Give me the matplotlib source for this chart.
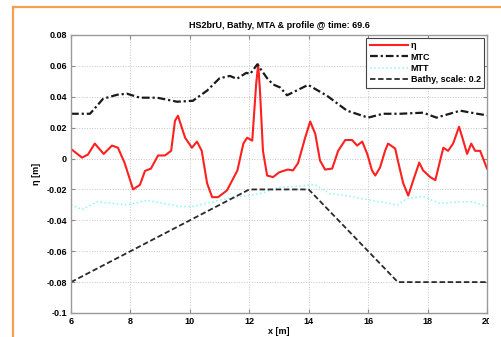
#!/usr/bin/env python3
"""Free-surface, mean trough/crest and bathymetry profile snapshot."""

import matplotlib
matplotlib.use("Agg")
import matplotlib.pyplot as plt
from matplotlib.lines import Line2D
from matplotlib.patches import Rectangle

# eta (free surface)
ETA_X = [6.03, 6.37, 6.57, 6.8, 7.1, 7.38, 7.58, 7.8, 8.09, 8.32, 8.49, 8.69,
         8.93, 9.16, 9.37, 9.5, 9.6, 9.84, 10.07, 10.24, 10.4, 10.58, 10.75,
         10.95, 11.25, 11.6, 11.8, 11.93, 12.1, 12.23, 12.3, 12.36, 12.46,
         12.6, 12.8, 13.0, 13.1, 13.3, 13.47, 13.64, 13.88, 14.05, 14.22,
         14.38, 14.55, 14.79, 14.99, 15.23, 15.46, 15.63, 15.8, 15.97, 16.13,
         16.24, 16.4, 16.57, 16.67, 16.91, 17.0, 17.18, 17.35, 17.52, 17.72,
         17.85, 18.09, 18.26, 18.53, 18.69, 18.86, 19.06, 19.2, 19.33, 19.47,
         19.6, 19.77, 20.0]
ETA_Y = [0.0058, 0.0006, 0.0026, 0.0097, 0.003, 0.0084, 0.007, -0.0026, -0.02,
         -0.017, -0.008, -0.0065, 0.002, 0.002, 0.005, 0.0245, 0.0277, 0.0135,
         0.007, 0.011, 0.005, -0.016, -0.025, -0.025, -0.0206, -0.0077, 0.0097,
         0.0135, 0.0116, 0.048, 0.061, 0.044, 0.005, -0.011, -0.012, -0.009,
         -0.0083, -0.0071, -0.0077, -0.003, 0.0135, 0.024, 0.016, -0.0013,
         -0.0071, -0.0065, 0.005, 0.012, 0.012, 0.0084, 0.011, 0.003, -0.0077,
         -0.011, -0.0058, 0.005, 0.0097, 0.0065, -0.0013, -0.016, -0.024,
         -0.014, -0.0026, -0.0077, -0.012, -0.014, 0.007, 0.005, 0.0097,
         0.0206, 0.0116, 0.003, 0.0097, 0.005, 0.005, -0.0065]

# mean crest (MTC)
MTC_X = [6.0, 6.64, 7.08, 7.55, 7.88, 8.32, 8.9, 9.57, 10.1, 10.58, 11.0,
         11.35, 11.58, 11.9, 12.03, 12.27, 12.6, 12.8, 13.04, 13.27, 13.98,
         14.62, 15.29, 16.0, 16.5, 17.08, 17.85, 18.3, 19.1, 19.67, 20.0]
MTC_Y = [0.029, 0.029, 0.0387, 0.0413, 0.042, 0.0394, 0.0394, 0.0368, 0.0374,
         0.044, 0.052, 0.0535, 0.0516, 0.0555, 0.0548, 0.061, 0.052, 0.048,
         0.046, 0.041, 0.0477, 0.0406, 0.031, 0.0265, 0.029, 0.029, 0.0297,
         0.0265, 0.031, 0.029, 0.028]

# mean trough (MTT)
MTT_X = [6.0, 6.37, 6.88, 7.4, 7.9, 8.56, 9.1, 9.67, 10.1, 10.78, 11.45, 12.0,
         12.5, 13.0, 13.6, 14.2, 14.7, 15.3, 15.8, 16.4, 16.98, 17.3, 17.85,
         18.4, 19.1, 19.5, 20.0]
MTT_Y = [-0.030, -0.033, -0.028, -0.029, -0.030, -0.027, -0.029, -0.031,
         -0.031, -0.028, -0.025, -0.024, -0.022, -0.0187, -0.018, -0.0168,
         -0.0226, -0.024, -0.026, -0.028, -0.030, -0.026, -0.0245, -0.029,
         -0.028, -0.028, -0.031]

# bathymetry, already scaled by 0.2
BATHY_X = [6.0, 12.0, 14.0, 17.0, 20.0]
BATHY_Y = [-0.08, -0.02, -0.02, -0.08, -0.08]

X_TICKS = [6, 8, 10, 12, 14, 16, 18, 20]
Y_TICKS = [-0.1, -0.08, -0.06, -0.04, -0.02, 0, 0.02, 0.04, 0.06, 0.08]
Y_TICK_LABELS = ["-0.1", "-0.08", "-0.06", "-0.04", "-0.02", "0",
                 "0.02", "0.04", "0.06", "0.08"]

plt.rcParams["font.family"] = ["Liberation Sans", "DejaVu Sans"]
plt.rcParams["font.weight"] = "bold"

W, H = 501, 337
fig = plt.figure(figsize=(W / 100, H / 100), dpi=100)
ax = fig.add_axes([71 / W, 1 - 313 / H, 416 / W, 278 / H])

ax.plot(ETA_X, ETA_Y, color="#ff2020", linewidth=1.5, label="η")
ax.plot(MTC_X, MTC_Y, color="#1a1a1a", linewidth=1.6,
        dashes=(3.5, 1.3, 1.0, 1.3), label="MTC")
ax.plot(MTT_X, MTT_Y, color="#8ff5f5", linewidth=1.1, linestyle=":",
        label="MTT")
ax.plot(BATHY_X, BATHY_Y, color="#2a2a2a", linewidth=1.3,
        dashes=(3.0, 1.5), label="Bathy, scale: 0.2")

ax.set_xlim(6, 20)
ax.set_ylim(-0.1, 0.08)
ax.set_xticks(X_TICKS)
ax.set_xticklabels([str(t) for t in X_TICKS])
ax.set_yticks(Y_TICKS)
ax.set_yticklabels(Y_TICK_LABELS)
ax.tick_params(direction="in", labelsize=6.5, length=3, color="#888888",
               top=True, right=True, pad=3)
for spine in ax.spines.values():
  spine.set_color("#999999")
  spine.set_linewidth(1.0)
ax.grid(True, color="#c4c4c4", linestyle=":", linewidth=0.7)
ax.set_axisbelow(True)

ax.set_xlabel("x [m]", fontsize=6.5, fontweight="bold", labelpad=0.5)
ax.set_ylabel("η [m]", fontsize=6.5, fontweight="bold", labelpad=4)
ax.set_title("HS2brU, Bathy, MTA & profile @ time: 69.6", fontsize=6.5,
             fontweight="bold", pad=5)

leg = ax.legend(loc="upper right", fontsize=6.5, handlelength=4.2,
                borderaxespad=0.3, fancybox=False, framealpha=1,
                edgecolor="#444444", labelspacing=0.25, borderpad=0.4,
                handletextpad=0.3)
leg.get_frame().set_linewidth(0.8)

# orange frame of the original screenshot and its cut right edge
fig.add_artist(Rectangle((489 / W, 0), 12 / W, 1 - 9 / H,
                         transform=fig.transFigure, facecolor="white",
                         edgecolor="none", zorder=10))
fig.add_artist(Line2D([13 / W, 13 / W], [0, 1 - 7 / H], color="#f4a050",
                      linewidth=1.6, zorder=11))
fig.add_artist(Line2D([13 / W, 1], [1 - 7 / H, 1 - 7 / H], color="#f4a050",
                      linewidth=1.6, zorder=11))

fig.savefig("out.png", dpi=100)
